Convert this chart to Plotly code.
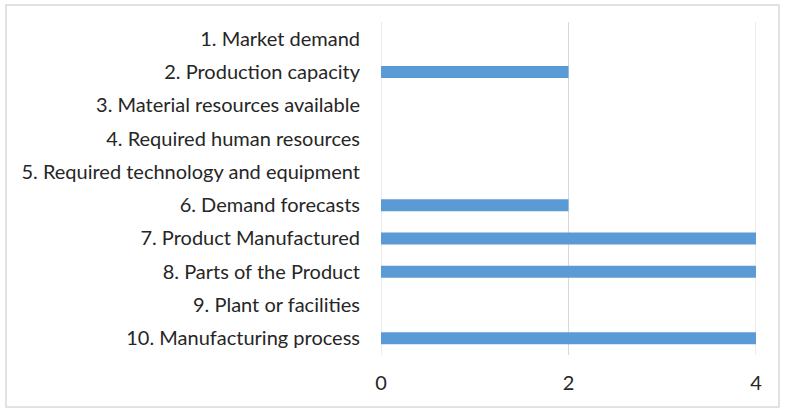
import plotly.graph_objects as go

categories = [
    "1. Market demand",
    "2. Production capacity",
    "3. Material resources available",
    "4. Required human resources",
    "5. Required technology and equipment",
    "6. Demand forecasts",
    "7. Product Manufactured",
    "8. Parts of the Product",
    "9. Plant or facilities",
    "10. Manufacturing process",
]
values = [0, 2, 0, 0, 0, 2, 4, 4, 0, 4]
tick_vals = [0, 2, 4]

W, H = 786, 413
L, R, T, B = 381, 30, 22, 58
pw, ph = W - L - R, H - T - B

def px_x(p):
    return (p - L) / pw

def px_y(p):
    return (H - B - p) / ph

fig = go.Figure(go.Bar(
    x=values, y=categories, orientation="h",
    marker=dict(color="#5B9BD5", line=dict(width=0)),
    width=0.36,
))

shapes = [dict(
    type="rect", xref="paper", yref="paper",
    x0=px_x(6), x1=px_x(779), y0=px_y(407), y1=px_y(5),
    line=dict(color="#d9d9d9", width=1.5), fillcolor="rgba(0,0,0,0)",
    layer="below",
)]
for tv in tick_vals:
    shapes.append(dict(
        type="line", xref="x", yref="paper", x0=tv, x1=tv, y0=0, y1=1,
        line=dict(color="#d9d9d9", width=1), layer="below",
    ))

fig.update_layout(
    width=W, height=H,
    margin=dict(l=L, r=R, t=T, b=B, autoexpand=False),
    paper_bgcolor="white", plot_bgcolor="white",
    font=dict(family="Lato, Carlito, Calibri, sans-serif", size=20, color="#262626"),
    showlegend=False,
    xaxis=dict(
        range=[0, 4], tickvals=tick_vals, showgrid=False,
        zeroline=False, showline=False, ticks="",
        tickfont=dict(size=20, color="#262626"), ticklabelstandoff=14,
        fixedrange=True,
    ),
    yaxis=dict(
        categoryorder="array", categoryarray=categories, autorange="reversed",
        showgrid=False, zeroline=False, showline=False, ticks="",
        ticklabelstandoff=20, tickfont=dict(size=20, color="#262626"),
        fixedrange=True,
    ),
    shapes=shapes,
)

fig.write_html(
    "out.html",
    config={"displayModeBar": False},
    post_script="document.body.style.margin='0';document.body.style.overflow='hidden';",
)
